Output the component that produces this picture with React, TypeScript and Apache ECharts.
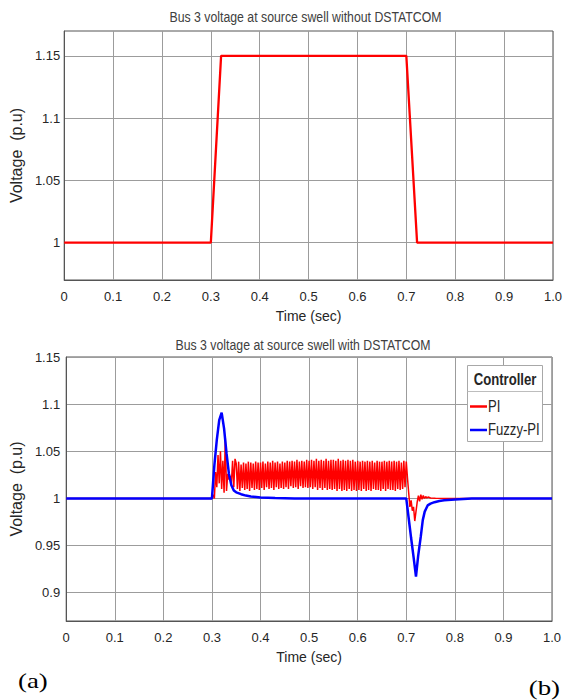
import React, { useEffect, useRef } from "react";
import * as echarts from "echarts";

// ---------- data ----------
const TITLE_TOP = "Bus 3 voltage at source swell without DSTATCOM";
const TITLE_BOTTOM = "Bus 3 voltage at source swell with DSTATCOM";
const X_NAME = "Time (sec)";
const Y_NAME = "Voltage  (p.u)";
const LEGEND_TITLE = "Controller";
const SERIES_NAMES = ["PI", "Fuzzy-PI"];
const PANEL_TAGS = ["(a)", "(b)"];

const TOP_Y_TICKS = [1, 1.05, 1.1, 1.15];
const BOTTOM_Y_TICKS = [0.9, 0.95, 1, 1.05, 1.1, 1.15];

// (a) without DSTATCOM
const TOP_TIME = [0, 0.3, 0.321, 0.7, 0.722, 1.0];
const TOP_VOLT = [1, 1, 1.15, 1.15, 1, 1];

// (b) Fuzzy-PI
const FUZZY_TIME = [
  0, 0.3, 0.305, 0.31, 0.315, 0.32, 0.325, 0.33, 0.335, 0.34, 0.345, 0.35, 0.36,
  0.37, 0.38, 0.4, 0.43, 0.47, 0.7, 0.705, 0.71, 0.715, 0.72, 0.7245, 0.73,
  0.734, 0.738, 0.744, 0.75, 0.758, 0.768, 0.778, 0.8, 0.835, 1.0,
];
const FUZZY_VOLT = [
  1, 1, 1.035, 1.062, 1.083, 1.091, 1.074, 1.048, 1.026, 1.014, 1.0085, 1.0065,
  1.0045, 1.003, 1.002, 1.001, 1.0004, 1.0, 1.0, 0.979, 0.958, 0.938, 0.917,
  0.939, 0.96, 0.977, 0.986, 0.9926, 0.9945, 0.996, 0.9972, 0.998, 0.9989, 1.0,
  1.0,
];

// (b) PI — start-up transient
const PI_HEAD_TIME = [
  0, 0.3, 0.3025, 0.305, 0.3075, 0.31, 0.3125, 0.315, 0.3175, 0.32, 0.3225,
  0.325, 0.3275, 0.33, 0.3325, 0.335, 0.3375, 0.34, 0.3425, 0.345, 0.3475,
];
const PI_HEAD_VOLT = [
  1, 1, 1.004, 1.0, 1.028, 1.012, 1.046, 1.016, 1.05, 1.01, 1.04, 1.006, 1.064,
  1.008, 1.026, 1.02, 1.024, 1.016, 1.04, 1.012, 1.042,
];

// (b) PI — sustained oscillation, one sample every 2.5 ms from 0.35 s
const PI_STEADY_START = 0.35;
const PI_STEADY_STEP = 0.0025;
const PI_STEADY_VOLT = [
  1.037, 1.010, 1.039, 1.008, 1.036, 1.011, 1.038, 1.009, 1.037, 1.010, 1.039, 1.008, 1.038, 1.011, 1.037, 1.009, 1.039, 1.010, 1.038, 1.009,
  1.038, 1.011, 1.039, 1.009, 1.037, 1.012, 1.039, 1.010, 1.038, 1.011, 1.040, 1.009, 1.038, 1.012, 1.039, 1.010, 1.037, 1.011, 1.039, 1.010,
  1.038, 1.012, 1.040, 1.010, 1.039, 1.013, 1.040, 1.011, 1.039, 1.012, 1.041, 1.010, 1.039, 1.013, 1.040, 1.011, 1.039, 1.012, 1.041, 1.011,
  1.040, 1.012, 1.041, 1.010, 1.040, 1.012, 1.042, 1.009, 1.040, 1.011, 1.041, 1.009, 1.040, 1.011, 1.042, 1.009, 1.040, 1.010, 1.041, 1.009,
  1.041, 1.010, 1.040, 1.008, 1.042, 1.010, 1.040, 1.008, 1.041, 1.009, 1.040, 1.008, 1.041, 1.010, 1.040, 1.008, 1.041, 1.009, 1.039, 1.008,
  1.040, 1.009, 1.039, 1.008, 1.040, 1.010, 1.039, 1.008, 1.040, 1.009, 1.039, 1.008, 1.040, 1.010, 1.038, 1.009, 1.040, 1.009, 1.039, 1.008,
  1.039, 1.010, 1.040, 1.008, 1.039, 1.010, 1.040, 1.009, 1.039, 1.009, 1.040, 1.008, 1.039, 1.010, 1.040, 1.009, 1.038, 1.010, 1.040, 1.012,
];

// (b) PI — recovery after the swell
const PI_TAIL_TIME = [
  0.7, 0.7025, 0.705, 0.7075, 0.71, 0.7125, 0.715, 0.7175, 0.72, 0.7225, 0.725,
  0.7275, 0.73, 0.7325, 0.735, 0.7375, 0.74, 0.7425, 0.745, 0.75, 0.76, 0.84, 1.0,
];
const PI_TAIL_VOLT = [
  1.039, 1.022, 1.006, 0.991, 0.998, 0.987, 0.991, 0.976, 0.986, 0.996, 1.003,
  0.997, 1.004, 0.999, 1.003, 1.0, 1.002, 1.0005, 1.0015, 1.0005, 1.0002, 1.0,
  1.0,
];

// ---------- styling ----------
const SANS = "'Liberation Sans', Arial, sans-serif";
const SERIF = "'Liberation Serif', 'Times New Roman', serif";
const TEXT = "#262626";
const GRID_LINE = "#9c9c9c";
const RED = "#ff0000";
const BLUE = "#0000ff";
const SQUISH = 0.82;

const zip = (t: number[], v: number[]) => t.map((x, i) => [x, v[i]]);

const fmtX = (v: number) => (v === 1 ? "1.0" : String(+v.toFixed(1)));
const fmtY = (v: number) => String(+v.toFixed(2));

function xAxis(gridIndex: number) {
  return {
    type: "value",
    gridIndex,
    min: 0,
    max: 1,
    interval: 0.1,
    name: X_NAME,
    nameLocation: "middle",
    nameGap: 29,
    nameTextStyle: { fontFamily: SANS, fontSize: 14, color: TEXT },
    axisLine: { show: true, onZero: false, lineStyle: { color: "#555", width: 1 } },
    axisTick: { show: false },
    axisLabel: {
      formatter: fmtX,
      fontFamily: SANS,
      fontSize: 13,
      color: TEXT,
      margin: 10,
      showMinLabel: true,
      showMaxLabel: true,
    },
    splitLine: { show: true, lineStyle: { color: GRID_LINE, width: 1 } },
  };
}

function yAxis(gridIndex: number, min: number, max: number, ticks: number[], margin: number, nameGap: number) {
  return {
    type: "value",
    gridIndex,
    min,
    max,
    name: Y_NAME,
    nameLocation: "middle",
    nameGap,
    nameTextStyle: { fontFamily: SANS, fontSize: 16, color: TEXT },
    axisLine: { show: true, onZero: false, lineStyle: { color: "#555", width: 1 } },
    axisTick: { show: true, inside: true, length: 0, customValues: ticks },
    axisLabel: {
      customValues: ticks,
      formatter: fmtY,
      fontFamily: SANS,
      fontSize: 13,
      color: TEXT,
      margin,
    },
    splitLine: { show: true, lineStyle: { color: GRID_LINE, width: 1 } },
  };
}

function label(text: string, x: number, y: number, size: number, extra: any = {}) {
  return {
    type: "text",
    x,
    y,
    scaleX: SQUISH,
    z: 101,
    style: {
      text,
      fontFamily: SANS,
      fontSize: size,
      fill: TEXT,
      align: "left",
      verticalAlign: "middle",
      ...extra,
    },
  };
}

const option: any = {
  animation: false,
  backgroundColor: "#ffffff",
  grid: [
    { left: 52, right: 6, top: 31, height: 249, show: true, borderColor: "#555", borderWidth: 1, backgroundColor: "#fff" },
    { left: 54, right: 13, top: 357, height: 264, show: true, borderColor: "#555", borderWidth: 1, backgroundColor: "#fff" },
  ],
  xAxis: [xAxis(0), xAxis(1)],
  yAxis: [
    yAxis(0, 0.97, 1.17, TOP_Y_TICKS, 4, 27),
    yAxis(1, 0.87, 1.15, BOTTOM_Y_TICKS, 6, 23),
  ],
  series: [
    {
      name: "Voltage",
      type: "line",
      xAxisIndex: 0,
      yAxisIndex: 0,
      data: zip(TOP_TIME, TOP_VOLT),
      showSymbol: false,
      symbol: "none",
      lineStyle: { color: RED, width: 2.3 },
      z: 3,
    },
    {
      name: SERIES_NAMES[0],
      type: "line",
      xAxisIndex: 1,
      yAxisIndex: 1,
      data: [
        ...zip(PI_HEAD_TIME, PI_HEAD_VOLT),
        ...PI_STEADY_VOLT.map((v, i) => [PI_STEADY_START + i * PI_STEADY_STEP, v]),
        ...zip(PI_TAIL_TIME, PI_TAIL_VOLT),
      ],
      showSymbol: false,
      symbol: "none",
      lineStyle: { color: RED, width: 1.5 },
      z: 3,
    },
    {
      name: SERIES_NAMES[1],
      type: "line",
      xAxisIndex: 1,
      yAxisIndex: 1,
      data: zip(FUZZY_TIME, FUZZY_VOLT),
      showSymbol: false,
      symbol: "none",
      lineStyle: { color: BLUE, width: 2.5 },
      z: 4,
    },
  ],
  graphic: [
    label(TITLE_TOP, 305.5, 17, 15, { fill: "#404040", align: "center" }),
    label(TITLE_BOTTOM, 303, 345, 15, { fill: "#404040", align: "center" }),
    // legend
    {
      type: "rect",
      z: 100,
      shape: { x: 467.5, y: 365.5, width: 75, height: 76 },
      style: { fill: "#ffffff", stroke: "#a8a8a8", lineWidth: 1 },
    },
    {
      type: "line",
      z: 101,
      shape: { x1: 467.5, y1: 391.5, x2: 542.5, y2: 391.5 },
      style: { stroke: "#bdbdbd", lineWidth: 1 },
    },
    label(LEGEND_TITLE, 505, 380, 16, { fontWeight: "bold", align: "center" }),
    {
      type: "line",
      z: 101,
      shape: { x1: 470, y1: 406.5, x2: 487, y2: 406.5 },
      style: { stroke: RED, lineWidth: 2.5 },
    },
    label(SERIES_NAMES[0], 488, 407, 16),
    {
      type: "line",
      z: 101,
      shape: { x1: 470, y1: 430, x2: 487, y2: 430 },
      style: { stroke: BLUE, lineWidth: 2.5 },
    },
    label(SERIES_NAMES[1], 488, 430, 16),
    // panel tags
    {
      type: "text",
      x: 18,
      y: 680,
      scaleX: 1.22,
      z: 100,
      style: { text: PANEL_TAGS[0], fontFamily: SERIF, fontSize: 22, fill: "#000", align: "left", verticalAlign: "middle" },
    },
    {
      type: "text",
      x: 560,
      y: 687,
      scaleX: 1.22,
      z: 100,
      style: { text: PANEL_TAGS[1], fontFamily: SERIF, fontSize: 22, fill: "#000", align: "right", verticalAlign: "middle" },
    },
  ],
};

export default function App() {
  const ref = useRef<HTMLDivElement>(null);
  useEffect(() => {
    if (!ref.current) return;
    const chart = echarts.init(ref.current, null, { renderer: "svg" });
    chart.setOption(option);
    return () => chart.dispose();
  }, []);
  return (
    <div
      ref={ref}
      style={{ position: "absolute", left: 0, top: 0, width: 565, height: 700, background: "#fff" }}
    />
  );
}
